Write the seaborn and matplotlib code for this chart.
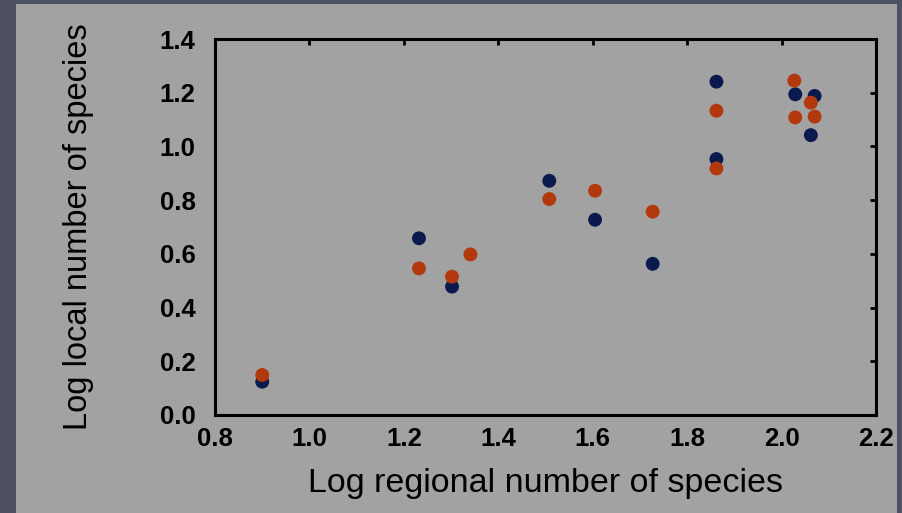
import matplotlib
matplotlib.use("Agg")
import matplotlib.pyplot as plt
import seaborn as sns
import pandas as pd
from matplotlib.patches import Rectangle

# ---- data ----
blue_x = [0.90, 1.232, 1.302, 1.508, 1.605, 1.727, 1.862, 1.862, 2.029, 2.070, 2.062]
blue_y = [0.124, 0.658, 0.478, 0.872, 0.727, 0.563, 1.241, 0.953, 1.194, 1.188, 1.042]
orange_x = [0.90, 1.232, 1.302, 1.341, 1.508, 1.605, 1.727, 1.862, 1.862, 2.027, 2.062, 2.029, 2.070]
orange_y = [0.149, 0.546, 0.515, 0.598, 0.804, 0.835, 0.757, 1.133, 0.918, 1.245, 1.163, 1.108, 1.111]
series_names = ["Series A", "Series B"]
x_ticks = [0.8, 1.0, 1.2, 1.4, 1.6, 1.8, 2.0, 2.2]
y_ticks = [0.0, 0.2, 0.4, 0.6, 0.8, 1.0, 1.2, 1.4]
x_label = "Log regional number of species"
y_label = "Log local number of species"

df = pd.DataFrame({
    "x": blue_x + orange_x,
    "y": blue_y + orange_y,
    "series": [series_names[0]] * len(blue_x) + [series_names[1]] * len(orange_x),
})

sns.set_style("white")
plt.rcParams["font.family"] = ["Liberation Sans", "DejaVu Sans"]

BG = "#4d5163"
PANEL = "#a2a2a2"

fig = plt.figure(figsize=(9.03, 5.13), dpi=100, facecolor=BG)
fig.patches.append(Rectangle((16 / 903, 0), (897 - 16) / 903, 1 - 4 / 513,
                             transform=fig.transFigure, facecolor=PANEL,
                             edgecolor="none", zorder=-10))

ax = fig.add_axes([215 / 903, 1 - 415 / 513, (876 - 215) / 903, (415 - 39) / 513])
ax.set_facecolor(PANEL)

sns.scatterplot(data=df, x="x", y="y", hue="series",
                palette={series_names[0]: "#0b1a4e", series_names[1]: "#b2380e"},
                s=100, linewidth=0, ax=ax, legend=False, zorder=3)

ax.set_xlim(0.8, 2.2)
ax.set_ylim(0.0, 1.4)
ax.set_xticks(x_ticks)
ax.set_yticks(y_ticks)
ax.set_xticklabels([f"{v:.1f}" for v in x_ticks], fontweight="bold")
ax.set_yticklabels([f"{v:.1f}" for v in y_ticks], fontweight="bold")

for sp in ax.spines.values():
    sp.set_visible(True)
    sp.set_color("black")
    sp.set_linewidth(2.2)

ax.tick_params(direction="in", length=4, width=2, color="black",
               top=True, right=True, labelsize=18.5, labelcolor="black")
ax.tick_params(axis="y", pad=14)
ax.tick_params(axis="x", pad=9)

ax.set_xlabel(x_label, fontsize=24.5, color="black", labelpad=12)
ax.set_ylabel(y_label, fontsize=23.5, color="black", labelpad=47)

fig.savefig("out.png", dpi=100, facecolor=BG)
